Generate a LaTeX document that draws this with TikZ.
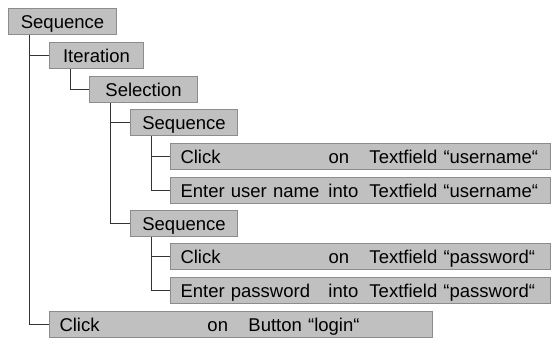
\documentclass[tikz,border=0pt]{standalone}
\usepackage{fontspec}
\setmainfont{Liberation Sans}
\definecolor{boxfill}{HTML}{C0C0C0}
\definecolor{boxline}{HTML}{8C8C8C}
\definecolor{treeline}{HTML}{333333}
\tikzstyle{item}=[anchor=north west,draw=boxline,fill=boxfill,line width=1pt,minimum height=26.5pt,inner xsep=10pt,inner ysep=0pt,text height=13.2pt,text depth=0pt,align=left,font=\fontsize{18.5}{22}\selectfont]
\tikzstyle{block}=[item,align=center]
\tikzstyle{branch}=[draw=treeline,line width=1pt]
\newcommand{\rowtext}[3]{\makebox[148pt][l]{#1}\makebox[41pt][l]{#2}#3}

\begin{document}
\begin{tikzpicture}[x=1pt,y=-1pt]
    \useasboundingbox (0,0) rectangle (552,339);
    \node[block,text width=88pt] (seq1) at (8,8) {Sequence};
    \node[block,text width=74pt] (iter) at (49,42) {Iteration};
    \node[block,text width=88pt] (sel) at (89,76) {Selection};
    \node[block,text width=87pt] (seq2) at (130,109) {Sequence};
    \node[item,text width=360pt] (clkuser) at (170,143) {\rowtext{Click}{on}{Textfield “username“}};
    \node[item,text width=360pt] (entuser) at (170,177) {\rowtext{Enter user name}{into}{Textfield “username“}};
    \node[block,text width=87pt] (seq3) at (130,210) {Sequence};
    \node[item,text width=360pt] (clkpass) at (170,243) {\rowtext{Click}{on}{Textfield “password“}};
    \node[item,text width=360pt] (entpass) at (170,277) {\rowtext{Enter password}{into}{Textfield “password“}};
    \node[item,text width=363pt] (clklogin) at (49,311) {\rowtext{Click}{on}{Button “login“}};

    \foreach \from/\to in {seq1/iter,seq1/clklogin,iter/sel,sel/seq2,sel/seq3,seq2/clkuser,seq2/entuser,seq3/clkpass,seq3/entpass}
    \draw[branch] ([xshift=21pt]\from.south west) |- (\to.west);
\end{tikzpicture}
\end{document}
